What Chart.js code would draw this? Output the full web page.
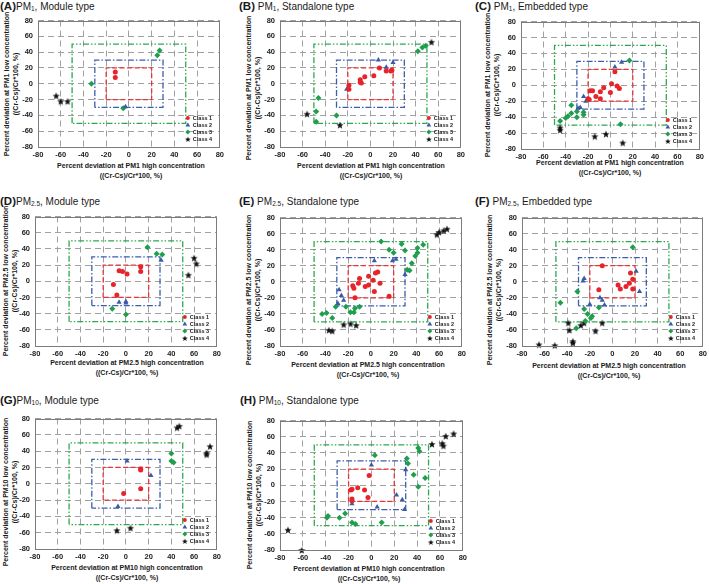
<!DOCTYPE html>
<html><head><meta charset="utf-8">
<script src="https://cdn.jsdelivr.net/npm/chart.js@4.4.0/dist/chart.umd.min.js"></script>
<style>
html,body{margin:0;padding:0;background:#fff;}
body{width:709px;height:584px;position:relative;overflow:hidden;font-family:"Liberation Sans",Arial,Helvetica,sans-serif;color:#1a1a1a;}
canvas{position:absolute;}
.t{position:absolute;white-space:nowrap;}
.pt{font-size:10px;line-height:12px;}
.pt b{font-size:11.5px;}
.pt sub{font-size:65%;vertical-align:baseline;position:relative;top:0.2em;}
.ax{font-size:7px;font-weight:bold;text-align:center;}
</style></head><body>
<script>
// ---------- data ----------
const tickValues = [-80, -60, -40, -20, 0, 20, 40, 60, 80];
const boxLimits = [20, 30, 50];
const classLabels = ['Class 1', 'Class 2', 'Class 3', 'Class 4'];
const panelLetters = ['A', 'B', 'C', 'D', 'E', 'F', 'G', 'H'];
const pmSubs = ['1', '1', '1', '2.5', '2.5', '2.5', '10', '10'];
const deviceTypes = ['Module type', 'Standalone type', 'Embedded type', 'Module type', 'Standalone type', 'Embedded type', 'Module type', 'Standalone type'];

// (A) PM1, Module type
const aClass1 = [[-12, 15], [-12, 8]];
const aClass2 = [[-3, -29]];
const aClass3 = [[-5, -31], [-33, 0], [25, 36], [27, 42]];
const aClass4 = [[-64, -15], [-60, -22], [-54, -22]];
// (B) PM1, Standalone type
const bClass1 = [[8, 20], [14, 16], [18, 16], [19, 17], [3, 10], [-5, 9], [-9, 5], [-8, 1], [-9, 2], [-19, -2], [-19, -7]];
const bClass2 = [[7, 30], [14, 21], [20, 27], [-21, -7]];
const bClass3 = [[42, 41], [46, 46], [49, 48], [-46, -18], [-48, -35], [-48, -48], [-30, -40]];
const bClass4 = [[54, 53], [-56, -38], [-27, -52]];
// (C) PM1, Embedded type
const cClass1 = [[4, 17], [1, 2], [6, -1], [8, -4], [0, -9], [-6, -3], [-9, -8], [-16, -7], [-18, -7], [-13, -14], [-9, -17], [-19, -18], [-20, -17]];
const cClass2 = [[4, 23], [10, 29], [-24, -14], [-22, -20], [-27, -28], [-29, -29]];
const cClass3 = [[17, 31], [-35, -25], [-30, -33], [-35, -35], [-38, -39], [-40, -41], [-45, -45], [-30, -40], [-24, -34], [-24, -37], [9, -49]];
const cClass4 = [[-45, -53], [-45, -56], [-14, -64], [-4, -61], [11, -72]];
// (D) PM2.5, Module type
const dClass1 = [[-6, 13], [-3, 12], [1, 9], [13, 18], [13, 12], [-11, -4], [-8, -17]];
const dClass2 = [[-6, -26], [0, -25], [0, -27], [31, 26]];
const dClass3 = [[19, 42], [27, 34], [32, 33], [-12, -34], [0, -41]];
const dClass4 = [[60, 29], [62, 22], [55, 8]];
// (E) PM2.5, Standalone type
const eClass1 = [[4, 11], [6, 12], [-2, 7], [2, 2], [8, -2], [-5, -6], [-11, -2], [-16, -5], [-15, -8], [-10, 4], [-2, -4], [3, -12], [-14, -20], [16, -18]];
const eClass2 = [[3, 26], [19, 26], [22, 28], [30, 9], [-28, -10], [-26, -17], [-24, -23], [-29, -27]];
const eClass3 = [[9, 50], [16, 40], [20, 36], [27, 47], [30, 39], [32, 15], [34, 14], [36, 23], [39, 32], [41, 36], [41, 42], [46, 46], [-31, -31], [-22, -31], [-10, -31], [-14, -33], [-18, -38], [-15, -38], [-43, -40], [-39, -39], [-34, -45]];
const eClass4 = [[-37, -60], [-34, -61], [-24, -53], [-18, -52], [-13, -54], [58, 59], [60, 62], [64, 64], [67, 66]];
// (F) PM2.5, Embedded type
const fClass1 = [[-9, 20], [16, 11], [18, 3], [15, -2], [18, -9], [12, -6], [5, -4], [7, -9], [-12, -10]];
const fClass2 = [[21, 13], [24, -12], [-25, 4], [-26, 1], [-20, -28], [-11, -20], [-9, -23], [-7, -29]];
const fClass3 = [[18, 43], [-31, -12], [-46, -26], [-12, -32], [-25, -34], [-22, -40], [-18, -43], [-19, -45], [-24, -49], [-32, -58]];
const fClass4 = [[-39, -51], [-38, -60], [-28, -54], [-25, -51], [-15, -61], [-9, -51], [-35, -74], [-35, -76], [-65, -78], [-51, -79]];
// (G) PM10, Module type
const gClass1 = [[13, 18], [13, 17], [13, -6], [-2, -12]];
const gClass2 = [[1, 28], [22, 10], [-7, -28]];
const gClass3 = [[40, 37], [40, 28], [42, 26]];
const gClass4 = [[45, 69], [47, 71], [74, 46], [71, 38], [71, 36], [-8, -57], [4, -54]];
// (H) PM10, Standalone type
const hClass1 = [[-2, 12], [-12, -3], [-17, -5], [-18, -6], [-6, -6], [-17, -17], [-17, -19], [-3, -15]];
const hClass2 = [[0, 25], [22, -12], [27, -18], [29, -30], [30, 19], [5, -27], [-17, -23]];
const hClass3 = [[3, 37], [31, 33], [32, 27], [41, 46], [42, 42], [37, 13], [47, 9], [41, -2], [-38, -38], [-39, -40], [-28, -40], [-23, -35], [-17, -46], [-14, -48], [9, -46]];
const hClass4 = [[53, 51], [62, 52], [63, 49], [65, 61], [72, 64], [-73, -55], [-61, -80]];

const panelData = [
  [aClass1, aClass2, aClass3, aClass4],
  [bClass1, bClass2, bClass3, bClass4],
  [cClass1, cClass2, cClass3, cClass4],
  [dClass1, dClass2, dClass3, dClass4],
  [eClass1, eClass2, eClass3, eClass4],
  [fClass1, fClass2, fClass3, fClass4],
  [gClass1, gClass2, gClass3, gClass4],
  [hClass1, hClass2, hClass3, hClass4]
];

// ---------- layout (pixels) ----------
const geom = [
  {L: 38, R: 221, T: 17, B: 147, tx: 0, ty: 7, sp: false, y1: 6, y2: 15, yc: 84, xc: 131, x1: 166},
  {L: 280, R: 462, T: 17, B: 147, tx: 239, ty: 7, sp: true, y1: 248, y2: 257, yc: 88, xc: 371, x1: 166},
  {L: 521, R: 701, T: 18, B: 149, tx: 475, ty: 7, sp: true, y1: 487, y2: 496, yc: 85, xc: 610, x1: 163},
  {L: 35, R: 218, T: 213, B: 346, tx: 0, ty: 202, sp: false, y1: 5, y2: 14, yc: 281, xc: 127, x1: 363},
  {L: 280, R: 463, T: 214, B: 346, tx: 239, ty: 202, sp: true, y1: 248, y2: 257, yc: 290, xc: 368, x1: 365},
  {L: 522, R: 704, T: 214, B: 346, tx: 475, ty: 202, sp: true, y1: 489, y2: 498, yc: 290, xc: 609, x1: 366},
  {L: 35, R: 218, T: 415, B: 549, tx: 0, ty: 401, sp: false, y1: 5, y2: 14, yc: 492, xc: 127, x1: 568},
  {L: 280, R: 464, T: 417, B: 550, tx: 240, ty: 401, sp: true, y1: 249, y2: 258, yc: 495, xc: 369, x1: 569}
];

const FONT = '"Liberation Sans", Arial, Helvetica, sans-serif';

function starCanvas(r, color) {
  const s = Math.ceil(r * 2) + 2;
  const c = document.createElement('canvas');
  c.width = s; c.height = s;
  const g = c.getContext('2d');
  g.fillStyle = color;
  g.beginPath();
  for (let i = 0; i < 10; i++) {
    const a = -Math.PI / 2 + i * Math.PI / 5;
    const rr = i % 2 ? r * 0.42 : r;
    g.lineTo(s / 2 + rr * Math.cos(a), s / 2 + 0.6 + rr * Math.sin(a));
  }
  g.closePath(); g.fill();
  return c;
}

const classStyles = [
  {color: '#e8242b', pointStyle: 'circle', radius: 2.5},
  {color: '#3a5ba8', pointStyle: 'triangle', radius: 3},
  {color: '#1f9e4c', pointStyle: 'rectRot', radius: 3},
  {color: '#111111', pointStyle: starCanvas(3.8, '#111111'), radius: 3.8}
];
const legendStar = starCanvas(3, '#111111');
const boxStyles = [
  {color: '#e8333a', dash: [5, 2.5]},
  {color: '#3d5da9', dash: [6, 2, 1.5, 2]},
  {color: '#2ea84e', dash: [6, 2, 1.5, 2, 1.5, 2]}
];

function drawMarker(ctx, i, x, y) {
  const st = classStyles[i];
  ctx.fillStyle = st.color;
  ctx.beginPath();
  if (i === 0) { ctx.arc(x, y, 2, 0, Math.PI * 2); ctx.fill(); }
  else if (i === 1) { ctx.moveTo(x, y - 2.6); ctx.lineTo(x + 2.4, y + 1.6); ctx.lineTo(x - 2.4, y + 1.6); ctx.closePath(); ctx.fill(); }
  else if (i === 2) { ctx.moveTo(x, y - 2.5); ctx.lineTo(x + 2.5, y); ctx.lineTo(x, y + 2.5); ctx.lineTo(x - 2.5, y); ctx.closePath(); ctx.fill(); }
  else { ctx.drawImage(legendStar, x - legendStar.width / 2, y - legendStar.height / 2); }
}

const framePlugin = {
  id: 'frameAndLegend',
  afterDraw(chart) {
    const ctx = chart.ctx, a = chart.chartArea;
    ctx.save();
    ctx.setLineDash([]);
    ctx.strokeStyle = '#7c7c7c';
    ctx.lineWidth = 1;
    ctx.strokeRect(Math.round(a.left) + 0.5, Math.round(a.top) + 0.5, Math.round(a.right - a.left) - 1, Math.round(a.bottom - a.top) - 1);
    ctx.font = 'bold 5.5px ' + FONT;
    ctx.textBaseline = 'middle';
    ctx.textAlign = 'left';
    chart.data.datasets.forEach((ds) => {
      if (ds.classIndex === undefined) return;
      const y = a.bottom - 29 + 7 * ds.classIndex;
      drawMarker(ctx, ds.classIndex, a.right - 32, y);
      ctx.fillStyle = '#222';
      ctx.fillText(ds.label, a.right - 27, y + 0.3);
    });
    ctx.restore();
  }
};

function boxPath(lim) {
  return [[-lim, -lim], [-lim, lim], [lim, lim], [lim, -lim], [-lim, -lim]].map(p => ({x: p[0], y: p[1]}));
}

const PADL = 32, PADT = 6, PADR = 6, PADB = 14;

function axisTitle(pm, level) {
  return 'Percent deviation at PM' + pm + ' ' + level + ' concentration';
}

panelData.forEach((classes, p) => {
  const g = geom[p];
  const t = document.createElement('div');
  t.className = 't pt';
  t.style.left = g.tx + 'px';
  t.style.top = (g.ty - 7) + 'px';
  t.innerHTML = '<b>(' + panelLetters[p] + ')</b>' + (g.sp ? ' ' : '') + 'PM<sub>' + pmSubs[p] + '</sub>, ' + deviceTypes[p];
  document.body.appendChild(t);

  const yt = document.createElement('div');
  yt.className = 't ax';
  yt.style.lineHeight = (g.y2 - g.y1) + 'px';
  yt.style.left = ((g.y1 + g.y2) / 2) + 'px';
  yt.style.top = g.yc + 'px';
  yt.style.transform = 'translate(-50%,-50%) rotate(-90deg)';
  yt.innerHTML = '<div>' + axisTitle(pmSubs[p], 'low') + '</div><div>((Cr-Cs)/Cr*100, %)</div>';
  document.body.appendChild(yt);

  const xt = document.createElement('div');
  xt.className = 't ax';
  xt.style.lineHeight = '10px';
  xt.style.left = g.xc + 'px';
  xt.style.top = (g.x1 - 5) + 'px';
  xt.style.transform = 'translateX(-50%)';
  xt.innerHTML = '<div>' + axisTitle(pmSubs[p], 'high') + '</div><div>((Cr-Cs)/Cr*100, %)</div>';
  document.body.appendChild(xt);

  const cv = document.createElement('canvas');
  cv.width = (g.R - g.L) + PADL + PADR;
  cv.height = (g.B - g.T) + PADT + PADB;
  cv.style.left = (g.L - PADL) + 'px';
  cv.style.top = (g.T - PADT) + 'px';
  document.body.appendChild(cv);

  const datasets = [];
  classes.forEach((pts, i) => {
    const st = classStyles[i];
    datasets.push({
      label: classLabels[i],
      classIndex: i,
      data: pts.map(q => ({x: q[0], y: q[1]})),
      pointStyle: st.pointStyle,
      pointRadius: st.radius,
      backgroundColor: st.color,
      borderColor: st.color,
      pointBorderWidth: 0,
      showLine: false,
      clip: false
    });
  });
  boxLimits.forEach((lim, i) => {
    const bs = boxStyles[i];
    datasets.push({
      label: 'box' + lim,
      data: boxPath(lim),
      showLine: true,
      pointRadius: 0,
      borderColor: bs.color,
      borderWidth: 1.3,
      borderDash: bs.dash,
      fill: false,
      tension: 0
    });
  });

  const tickFont = {size: 7.5, weight: 'bold', family: FONT};
  const setTicks = s => { s.ticks = tickValues.map(v => ({value: v})); };
  new Chart(cv, {
    type: 'scatter',
    data: {datasets},
    options: {
      responsive: false,
      animation: false,
      events: [],
      devicePixelRatio: 1,
      layout: {padding: {top: PADT, right: PADR, left: 0, bottom: 0}, autoPadding: false},
      plugins: {legend: {display: false}, tooltip: {enabled: false}},
      scales: {
        x: {
          type: 'linear', min: -80, max: 80,
          afterBuildTicks: setTicks,
          afterFit: s => { s.height = PADB; },
          grid: {color: '#a0a0a0', lineWidth: 1, drawTicks: false},
          border: {display: false, dash: [6, 4]},
          ticks: {font: tickFont, color: '#222', padding: 3, maxRotation: 0, autoSkip: false}
        },
        y: {
          type: 'linear', min: -80, max: 80,
          afterBuildTicks: setTicks,
          afterFit: s => { s.width = PADL; },
          grid: {color: '#a0a0a0', lineWidth: 1, drawTicks: false},
          border: {display: false, dash: [6, 4]},
          ticks: {font: tickFont, color: '#222', padding: 5, autoSkip: false}
        }
      }
    },
    plugins: [framePlugin]
  });
});
</script>
</body></html>
